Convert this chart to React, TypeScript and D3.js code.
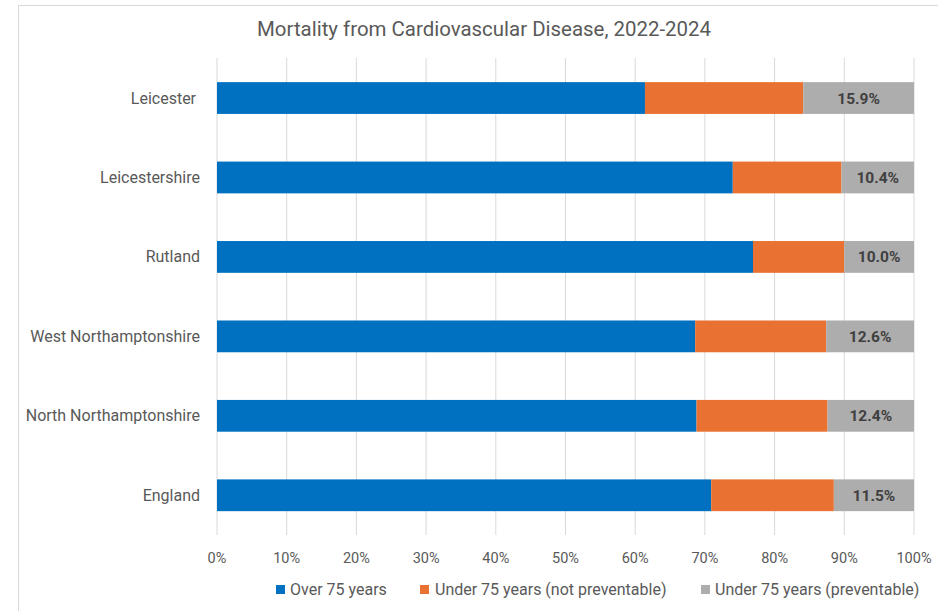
import React from "react";
import * as d3 from "d3";

const categories = [
  "Leicester ",
  "Leicestershire",
  "Rutland",
  "West Northamptonshire",
  "North Northamptonshire",
  "England",
];
const over75 = [61.4, 74.0, 76.9, 68.6, 68.8, 70.9];
const under75NotPreventable = [22.7, 15.6, 13.1, 18.8, 18.8, 17.6];
const under75Preventable = [15.9, 10.4, 10.0, 12.6, 12.4, 11.5];
const seriesNames = [
  "Over 75 years",
  "Under 75 years (not preventable)",
  "Under 75 years (preventable)",
];
const seriesColors = ["#0070C0", "#E97132", "#ADADAD"];
const tickValues = [0, 10, 20, 30, 40, 50, 60, 70, 80, 90, 100];

const W = 938;
const H = 611;
const FONT = "Roboto, 'Open Sans', 'Liberation Sans', sans-serif";
const TEXT = "#595959";

export default function App() {
  const x = d3.scaleLinear().domain([0, 100]).range([217, 914]);
  const y = d3
    .scaleBand<string>()
    .domain(categories)
    .range([58.3, 535])
    .paddingInner(0.6)
    .paddingOuter(0.3);

  const rows = categories.map((c, i) => ({
    cat: c,
    v0: over75[i],
    v1: under75NotPreventable[i],
    v2: under75Preventable[i],
  }));
  const stack = d3.stack<any>().keys(["v0", "v1", "v2"])(rows);

  const legendItems = [
    { sx: 276, tx: 290 },
    { sx: 420, tx: 435 },
    { sx: 701, tx: 715 },
  ];

  return (
    <svg
      width={W}
      height={H}
      style={{ position: "absolute", left: 0, top: 0, background: "#fff" }}
      fontFamily={FONT}
    >
      <rect x={0} y={0} width={W} height={H} fill="#fff" />
      <rect x={18.5} y={5.5} width={W} height={H} fill="none" stroke="#d9d9d9" strokeWidth={1} />

      <text
        x={484}
        y={36}
        textAnchor="middle"
        fontSize={20}
        fill={TEXT}
        textLength={454}
        lengthAdjust="spacingAndGlyphs"
      >
        Mortality from Cardiovascular Disease, 2022-2024
      </text>

      {tickValues.map((t) => (
        <g key={t}>
          <line
            x1={x(t)}
            x2={x(t)}
            y1={58}
            y2={535}
            stroke="#d9d9d9"
            strokeWidth={1}
          />
          <text x={x(t)} y={563} textAnchor="middle" fontSize={14.5} fill={TEXT}>
            {t}%
          </text>
        </g>
      ))}

      {stack.map((layer, si) => (
        <g key={si} fill={seriesColors[si]}>
          {layer.map((d, i) => (
            <rect
              key={i}
              x={x(d[0])}
              y={y(categories[i])!}
              width={x(d[1]) - x(d[0])}
              height={y.bandwidth()}
            />
          ))}
        </g>
      ))}

      {stack[2].map((d, i) => (
        <text
          key={i}
          x={(x(d[0]) + x(d[1])) / 2}
          y={y(categories[i])! + y.bandwidth() / 2 + 5.5}
          textAnchor="middle"
          fontSize={15.5}
          fontWeight="bold"
          fill="#404040"
        >
          {under75Preventable[i].toFixed(1)}%
        </text>
      ))}

      {categories.map((c, i) => (
        <text
          key={c}
          x={200}
          y={y(c)! + y.bandwidth() / 2 + 5.5}
          textAnchor="end"
          fontSize={16}
          fill={TEXT}
          style={{ whiteSpace: "pre" }}
        >
          {c}
        </text>
      ))}

      {seriesNames.map((n, i) => (
        <g key={n}>
          <rect x={legendItems[i].sx} y={585} width={9} height={9} fill={seriesColors[i]} />
          <text x={legendItems[i].tx} y={595} fontSize={16} fill={TEXT}>
            {n}
          </text>
        </g>
      ))}
    </svg>
  );
}
